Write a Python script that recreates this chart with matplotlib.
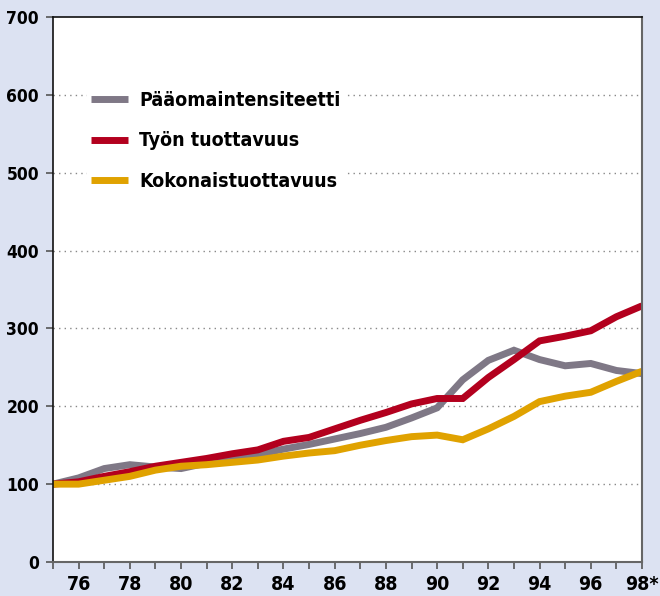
import matplotlib
matplotlib.use("Agg")
import matplotlib.pyplot as plt
from matplotlib import font_manager

years = list(range(75, 99))
paaoma = [100, 108, 120, 125, 122, 120, 127, 133, 138, 145, 151, 158, 165, 173, 185, 198,
          234, 259, 272, 260, 252, 255, 246, 242]
tyon = [100, 103, 110, 116, 123, 128, 133, 139, 144, 155, 160, 171, 182, 192, 203, 210,
        210, 237, 260, 284, 290, 297, 315, 329]
kokonais = [100, 100, 105, 110, 118, 123, 125, 128, 131, 136, 140, 143, 150, 156, 161, 163,
            157, 171, 187, 206, 213, 218, 232, 245]
series_labels = ["Pääomaintensiteetti", "Työn tuottavuus", "Kokonaistuottavuus"]
xtick_vals = list(range(76, 99, 2))
xtick_labels = [str(v) for v in range(76, 98, 2)] + ["98*"]
ytick_vals = list(range(0, 701, 100))

condensed = [f for f in font_manager.fontManager.ttflist
             if f.name == "DejaVu Sans" and "ondensed" in str(f.stretch).lower() + f.fname.lower()]
if condensed:
    plt.rcParams["font.family"] = ["DejaVu Sans"]
    plt.rcParams["font.stretch"] = "condensed"
    fs_ytick, fs_xtick, fs_leg, weight = 12.5, 14, 14, "bold"
else:
    plt.rcParams["font.family"] = ["Liberation Sans", "DejaVu Sans"]
    fs_ytick, fs_xtick, fs_leg, weight = 12, 13, 13, "bold"

bg = "#dce2f2"
fig = plt.figure(figsize=(6.6, 5.96), dpi=100, facecolor=bg)
ax = fig.add_axes([53/660, 1-562/596, (642-53)/660, (562-17)/596])
ax.set_facecolor("white")

colors = ["#7f7886", "#b3001e", "#e0a200"]
for vals, lab, c in zip([paaoma, tyon, kokonais], series_labels, colors):
    ax.plot(years, vals, color=c, lw=5.0, label=lab, solid_joinstyle="miter", solid_capstyle="butt")

ax.set_xlim(75, 98)
ax.set_ylim(0, 700)
ax.set_yticks(ytick_vals)
ax.set_yticklabels([str(v) for v in ytick_vals], fontsize=fs_ytick, fontweight=weight)
ax.set_xticks(years)
ax.set_xticklabels([xtick_labels[xtick_vals.index(y)] if y in xtick_vals else "" for y in years],
                   fontsize=fs_xtick, fontweight=weight)
ax.tick_params(axis="both", direction="out", length=5, width=1.2, color="#555555")
ax.tick_params(axis="y", pad=5)
ax.tick_params(axis="x", pad=4)

for v in range(100, 700, 100):
    ax.axhline(v, color="#888888", lw=1, ls=(0, (1, 3)), zorder=0)

for s in ["left", "top"]:
    ax.spines[s].set_color("#111111")
    ax.spines[s].set_linewidth(1.2)
for s in ["bottom", "right"]:
    ax.spines[s].set_color("#666666")
    ax.spines[s].set_linewidth(1.5)

leg = ax.legend(loc="upper left", bbox_to_anchor=(0.042, 0.889), frameon=True, fancybox=False,
                edgecolor="none", facecolor="white", framealpha=1, fontsize=fs_leg,
                handlelength=1.9, handletextpad=0.57, labelspacing=1.1, borderpad=0.2)
for t in leg.get_texts():
    t.set_fontweight(weight)

fig.savefig("out.png", dpi=100, facecolor=bg)
